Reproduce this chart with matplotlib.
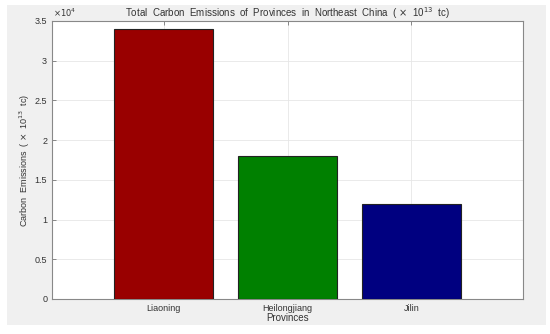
import matplotlib
matplotlib.use("Agg")
import matplotlib.pyplot as plt
from matplotlib.patches import Rectangle
from matplotlib.ticker import FuncFormatter

provinces = ["Liaoning", "Heilongjiang", "Jilin"]
emissions = [3.4e4, 1.8e4, 1.2e4]
bar_colors = ["#990000", "#008000", "#000080"]
y_ticks = [0, 0.5e4, 1e4, 1.5e4, 2e4, 2.5e4, 3e4, 3.5e4]
y_scale = 1e4

plt.rcParams['font.family'] = ['Liberation Sans', 'DejaVu Sans']
text_color = "#333333"

fig = plt.figure(figsize=(5.5, 3.34), dpi=100)
fig.patch.set_facecolor("white")
# MATLAB-like gray figure panel, kept behind the axes
panel = Rectangle((7 / 550, 9 / 334), 539 / 550, 320 / 334,
                  transform=fig.transFigure, facecolor="#f0f0f0",
                  edgecolor="none", zorder=-10)
fig.add_artist(panel)

ax = fig.add_axes([52 / 550, 35 / 334, 471 / 550, 278 / 334])
ax.set_facecolor("white")

x = list(range(1, len(provinces) + 1))
ax.bar(x, emissions, width=0.8, color=bar_colors, edgecolor="#222222",
       linewidth=0.8, zorder=3)

ax.set_xlim(0.1, 3.9)
ax.set_ylim(0, 3.5e4)
ax.set_xticks(x)
ax.set_xticklabels(provinces)
ax.set_yticks(y_ticks)
# MATLAB style labels: 0, 0.5, 1, ... with a separate exponent
ax.yaxis.set_major_formatter(FuncFormatter(lambda v, pos: f"{v / y_scale:g}"))
ax.text(0.002, 1.008, "$\\times10^4$", transform=ax.transAxes, fontsize=6,
        color=text_color, ha="left", va="bottom")

ax.tick_params(direction="in", length=3, width=0.6, colors="#777777",
               labelcolor=text_color, labelsize=6.5, top=True, right=False)
ax.grid(True, color="#e6e6e6", linewidth=0.6, zorder=0)
ax.set_axisbelow(True)
for side in ["top", "right", "bottom", "left"]:
    ax.spines[side].set_color("#888888")
    ax.spines[side].set_linewidth(0.8)

ax.set_title("Total  Carbon  Emissions  of  Provinces  in  Northeast  China  ( $\\times$  10$^{13}$  tc)",
             fontsize=7, color=text_color, pad=3)
ax.set_xlabel("Provinces", fontsize=7, color=text_color, labelpad=0)
ax.set_ylabel("Carbon  Emissions  ( $\\times$  10$^{13}$  tc)", fontsize=6.5,
              color=text_color, labelpad=2)

fig.savefig("out.png", dpi=100)
